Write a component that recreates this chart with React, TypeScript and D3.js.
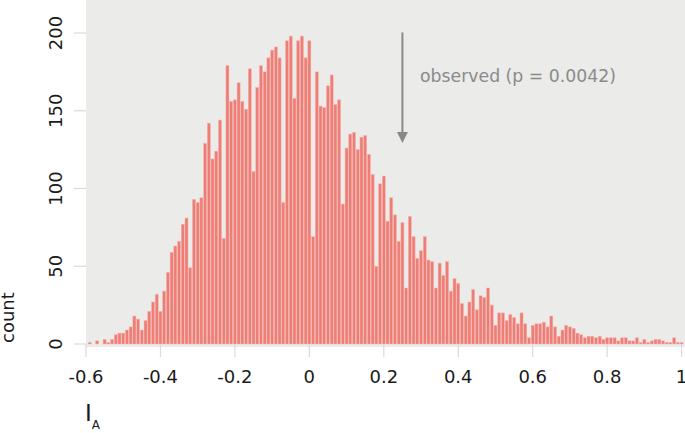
import React from "react";
import * as d3 from "d3";

const binStart = -0.59;
const binWidth = 0.01;
const counts = [
  1, 0, 2, 0, 3, 1, 3, 6, 7, 7,
  9, 11, 18, 16, 9, 15, 21, 27, 32, 21,
  34, 46, 59, 63, 66, 77, 81, 49, 93, 91,
  94, 129, 142, 119, 124, 144, 68, 179, 156, 157,
  168, 156, 151, 177, 111, 165, 179, 175, 184, 189,
  191, 184, 91, 195, 198, 158, 195, 198, 184, 195,
  69, 175, 153, 152, 166, 173, 154, 157, 90, 126,
  135, 136, 125, 133, 134, 122, 109, 50, 103, 108,
  79, 94, 83, 66, 78, 36, 82, 69, 55, 60,
  69, 54, 53, 36, 52, 44, 53, 34, 42, 39,
  26, 18, 27, 35, 22, 31, 30, 36, 25, 12,
  20, 20, 15, 19, 17, 13, 20, 13, 4, 12,
  13, 13, 14, 11, 18, 11, 5, 9, 12, 11,
  10, 7, 6, 4, 5, 5, 4, 5, 3, 4,
  4, 4, 2, 4, 4, 2, 2, 4, 1, 3,
  1, 2, 3, 3, 2, 1, 1, 4, 1, 1,
];
const xTicks = [-0.6, -0.4, -0.2, 0, 0.2, 0.4, 0.6, 0.8, 1];
const xTickLabels = ["-0.6", "-0.4", "-0.2", "0", "0.2", "0.4", "0.6", "0.8", "1"];
const yTicks = [0, 50, 100, 150, 200];
const observedValue = 0.25;
const annotation = "observed (p = 0.0042)";

const W = 685;
const H = 433;
const panel = { left: 86, right: 685, top: 0, bottom: 347 };
const FONT = "'DejaVu Sans', sans-serif";

export default function App() {
  const x = d3.scaleLinear().domain([-0.6, 1]).range([86, 681.6]);
  const y = d3.scaleLinear().domain([0, 200]).range([344, 33]);
  const bins = counts.map((c, i) => ({ mid: binStart + i * binWidth, c }));
  const ax = x(observedValue);

  return (
    <svg width={W} height={H} style={{ position: "absolute", left: 0, top: 0 }}>
      <rect x={0} y={0} width={W} height={H} fill="#ffffff" />
      <rect
        x={panel.left}
        y={panel.top}
        width={panel.right - panel.left}
        height={panel.bottom - panel.top}
        fill="#EBEBEA"
      />
      {bins
        .filter((b) => b.c > 0)
        .map((b, i) => {
          const x0 = x(b.mid - binWidth / 2);
          const x1 = x(b.mid + binWidth / 2);
          return (
            <rect
              key={i}
              x={x0 + 0.35}
              y={y(b.c)}
              width={x1 - x0 - 0.7}
              height={y(0) - y(b.c)}
              fill="#EE7D75"
              stroke="#F6B3AD"
              strokeWidth={0.5}
            />
          );
        })}
      {xTicks.map((t, i) => (
        <g key={"xt" + t}>
          <line x1={x(t)} x2={x(t)} y1={344} y2={357} stroke="#DADADA" strokeWidth={1.2} />
          <text
            x={x(t)}
            y={383}
            textAnchor="middle"
            fontFamily={FONT}
            fontSize={18}
            fill="#1a1a1a"
          >
            {xTickLabels[i]}
          </text>
        </g>
      ))}
      {yTicks.map((t) => (
        <g key={"yt" + t}>
          <line x1={74} x2={86} y1={y(t)} y2={y(t)} stroke="#DADADA" strokeWidth={1.2} />
          <text
            transform={`translate(61.5,${y(t)}) rotate(-90)`}
            textAnchor="middle"
            fontFamily={FONT}
            fontSize={18}
            fill="#1a1a1a"
          >
            {t}
          </text>
        </g>
      ))}
      <text
        transform={`translate(13.5,343) rotate(-90)`}
        textAnchor="start"
        fontFamily={FONT}
        fontSize={18}
        fill="#1a1a1a"
      >
        count
      </text>
      <text x={85} y={421} fontFamily={FONT} fontSize={23} fill="#1a1a1a">
        I
        <tspan fontSize={12} dy={8}>
          A
        </tspan>
      </text>
      <line x1={ax} x2={ax} y1={32.5} y2={134} stroke="#888888" strokeWidth={2} />
      <path
        d={`M${ax - 5.5},${132} L${ax + 5.5},${132} L${ax},${143} Z`}
        fill="#888888"
      />
      <text x={420} y={82} fontFamily={FONT} fontSize={17.3} fill="#8a8a8a">
        {annotation}
      </text>
    </svg>
  );
}
